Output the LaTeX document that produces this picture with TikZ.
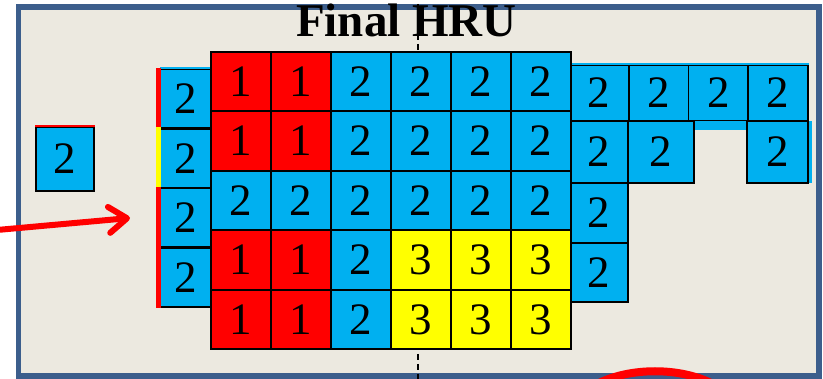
\documentclass[tikz,border=0pt]{standalone}
\usepackage{fontspec}
\setmainfont{Liberation Serif}
\usetikzlibrary{arrows.meta, positioning, calc}
\definecolor{hrured}{RGB}{255, 0, 0}
\definecolor{hrublue}{RGB}{0, 176, 240}
\definecolor{hruyellow}{RGB}{255, 255, 0}
\definecolor{panelbg}{RGB}{236, 233, 224}
\definecolor{panelframe}{RGB}{60, 94, 140}
\tikzset{
	cell/.style={draw=black, line width=2.4pt, shape=rectangle, minimum width=60pt, minimum height=59.5pt, inner sep=0pt, font=\fontsize{45}{45}\selectfont},
	extcell/.style={cell, line width=1.6pt},
	hruone/.style={fill=hrured},
	hrutwo/.style={fill=hrublue},
	hruthree/.style={fill=hruyellow},
	strip/.style={line width=5pt},
	divider/.style={line width=1.5pt, dash pattern=on 6pt off 4pt},
	inflow/.style={draw=hrured, line width=6pt, line cap=round, -{Straight Barb[length=18pt, width=26pt, line width=6pt, round]}},
	hrutitle/.style={font=\bfseries\fontsize{47}{47}\selectfont, anchor=base}
}
\begin{document}
\begin{tikzpicture}[x=1pt, y=-1pt, node distance=59.5pt and 60pt, on grid]
	\useasboundingbox (0,0) rectangle (823,379);
	\fill[white] (0,0) rectangle (823,379);
	\draw[panelframe, fill=panelbg, line width=5.5pt] (18.5,7) rectangle (819,376);

	% divider
	\coordinate (divtop) at (418,4);
	\coordinate (divbot) at (418,379);
	\draw[divider] (divtop) -- (divbot);

	% right extension
	\node (e1) [extcell, hrutwo, minimum width=59.75pt, minimum height=56pt] at (598.9,93) {2};
	\node (e2) [extcell, hrutwo, minimum width=59.75pt, minimum height=56pt] at (658.6,93) {2};
	\node (e3) [extcell, hrutwo, minimum width=59.75pt, minimum height=56pt] at (718.4,93) {2};
	\node (e4) [extcell, hrutwo, minimum width=59.75pt, minimum height=56pt] at (778.1,93) {2};
	\draw[hrublue, line width=2pt] (e1.north west) -- (e4.north east);
	\fill[hrublue] (694,121) rectangle (747,130);
	\fill[hrublue] (808,121) rectangle (812,183);
	\node (f1) [extcell, hrutwo, minimum width=59pt, minimum height=62pt] at (598.5,152) {2};
	\node (f2) [extcell, hrutwo, minimum width=66pt, minimum height=62pt] at (661,152) {2};
	\node (f3) [extcell, hrutwo, minimum width=61pt, minimum height=62pt] at (777.5,152) {2};
	\node (g1) [extcell, hrutwo, minimum width=59pt, minimum height=60pt] at (598.5,213) {2};
	\node (h1) [extcell, hrutwo, minimum width=59pt, minimum height=59pt] at (598.5,272.5) {2};

	% left column
	\node (l1) [cell, hrutwo, minimum width=51.5pt] at (185.25,98.75) {2};
	\node (l2) [cell, hrutwo, minimum width=51.5pt, below=of l1] {2};
	\node (l3) [cell, hrutwo, minimum width=51.5pt, below=of l2] {2};
	\node (l4) [cell, hrutwo, minimum width=51.5pt, below=of l3] {2};
	\draw[hrublue, line width=2pt] ([xshift=2pt]l1.north west) -- (l1.north east);
	\draw[strip, hrured] (l1.north west) -- (l1.south west);
	\draw[strip, hruyellow] (l2.north west) -- (l2.south west);
	\draw[strip, hrured] (l3.north west) -- (l3.south west);
	\draw[strip, hrured] (l4.north west) -- (l4.south west);

	% isolated cell
	\node (iso) [extcell, hrutwo, minimum width=58pt, minimum height=64pt] at (65,159) {2};
	\draw[hrured, line width=2pt] (iso.north west) -- (iso.north east);

	% main grid
	\node (a1) [cell, hruone] at (241,81.5) {1};
	\node (a2) [cell, hruone, right=of a1] {1};
	\node (a3) [cell, hrutwo, right=of a2] {2};
	\node (a4) [cell, hrutwo, right=of a3] {2};
	\node (a5) [cell, hrutwo, right=of a4] {2};
	\node (a6) [cell, hrutwo, right=of a5] {2};

	\node (b1) [cell, hruone, below=of a1] {1};
	\node (b2) [cell, hruone, right=of b1] {1};
	\node (b3) [cell, hrutwo, right=of b2] {2};
	\node (b4) [cell, hrutwo, right=of b3] {2};
	\node (b5) [cell, hrutwo, right=of b4] {2};
	\node (b6) [cell, hrutwo, right=of b5] {2};

	\node (c1) [cell, hrutwo, below=of b1] {2};
	\node (c2) [cell, hrutwo, right=of c1] {2};
	\node (c3) [cell, hrutwo, right=of c2] {2};
	\node (c4) [cell, hrutwo, right=of c3] {2};
	\node (c5) [cell, hrutwo, right=of c4] {2};
	\node (c6) [cell, hrutwo, right=of c5] {2};

	\node (d1) [cell, hruone, below=of c1] {1};
	\node (d2) [cell, hruone, right=of d1] {1};
	\node (d3) [cell, hrutwo, right=of d2] {2};
	\node (d4) [cell, hruthree, right=of d3] {3};
	\node (d5) [cell, hruthree, right=of d4] {3};
	\node (d6) [cell, hruthree, right=of d5] {3};

	\node (r1) [cell, hruone, below=of d1] {1};
	\node (r2) [cell, hruone, right=of r1] {1};
	\node (r3) [cell, hrutwo, right=of r2] {2};
	\node (r4) [cell, hruthree, right=of r3] {3};
	\node (r5) [cell, hruthree, right=of r4] {3};
	\node (r6) [cell, hruthree, right=of r5] {3};

	% inflow arrow
	\coordinate (inlet) at (-3,230);
	\coordinate (entry) at (130,218);
	\draw[inflow] (inlet) -- (entry);

	% red mark at the bottom
	\draw[hrured, line width=8pt] (597,384) .. controls (630,367) and (680,367) .. (713,384);

	% title
	\node (hdr) [hrutitle] at (406.5,37) {Final HRU};
\end{tikzpicture}
\end{document}
